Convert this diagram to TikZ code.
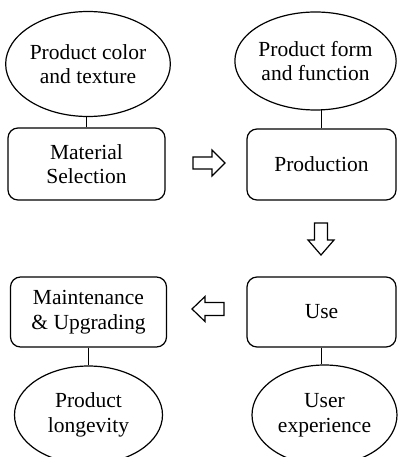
\documentclass[tikz,border=0pt]{standalone}
\usepackage{fontspec}
\setmainfont{Liberation Serif}
\usetikzlibrary{shapes.geometric}
\begin{document}
\begin{tikzpicture}[x=1pt,y=-1pt,
  every node/.style={font=\fontsize{21.5}{24.5}\selectfont, align=center, line width=1.2pt, inner sep=0pt},
  oval/.style={draw, ellipse},
  procbox/.style={draw, rounded corners=10pt},
  link/.style={line width=1.2pt},
  blockarrow/.style={draw, line width=1.2pt, fill=white, line join=miter}]
\useasboundingbox (0,0) rectangle (398,457);
% top left
\node[oval, minimum width=152pt, minimum height=105pt] (e1) at (88,64) {Product color\\and texture};
\node[procbox, minimum width=157pt, minimum height=72pt] (b1) at (86.5,164) {Material\\Selection};
\draw[link] (b1.north) -- (b1.north |- e1.south);
% top right
\node[oval, minimum width=134pt, minimum height=98pt] (e2) at (315.5,61) {Product form\\and function};
\node[procbox, minimum width=149pt, minimum height=71pt] (b2) at (321.5,164.5) {Production};
\draw[link] (b2.north) -- ++(0,-19);
% bottom right
\node[procbox, minimum width=149pt, minimum height=70pt] (b3) at (321.5,312) {Use};
\node[oval, minimum width=145pt, minimum height=100pt] (e3) at (324.5,415) {User\\experience};
\draw[link] (b3.south) -- (b3.south |- e3.north);
% bottom left
\node[procbox, minimum width=156pt, minimum height=70pt] (b4) at (88.5,312) {Maintenance\\\&~Upgrading};
\node[oval, minimum width=148pt, minimum height=98pt] (e4) at (88.5,415) {Product\\longevity};
\draw[link] (b4.south) -- (e4.north);
% block arrows
\draw[blockarrow] (193,157) -- (212,157) -- (212,150) -- (225,163) -- (212,176) -- (212,169) -- (193,169) -- cycle;
\draw[blockarrow] (314.5,223) -- (327.5,223) -- (327.5,240) -- (334,240) -- (321,255) -- (308,240) -- (314.5,240) -- cycle;
\draw[blockarrow] (224,302.5) -- (205,302.5) -- (205,296.5) -- (192,309) -- (205,321.5) -- (205,315.5) -- (224,315.5) -- cycle;
\end{tikzpicture}
\end{document}
